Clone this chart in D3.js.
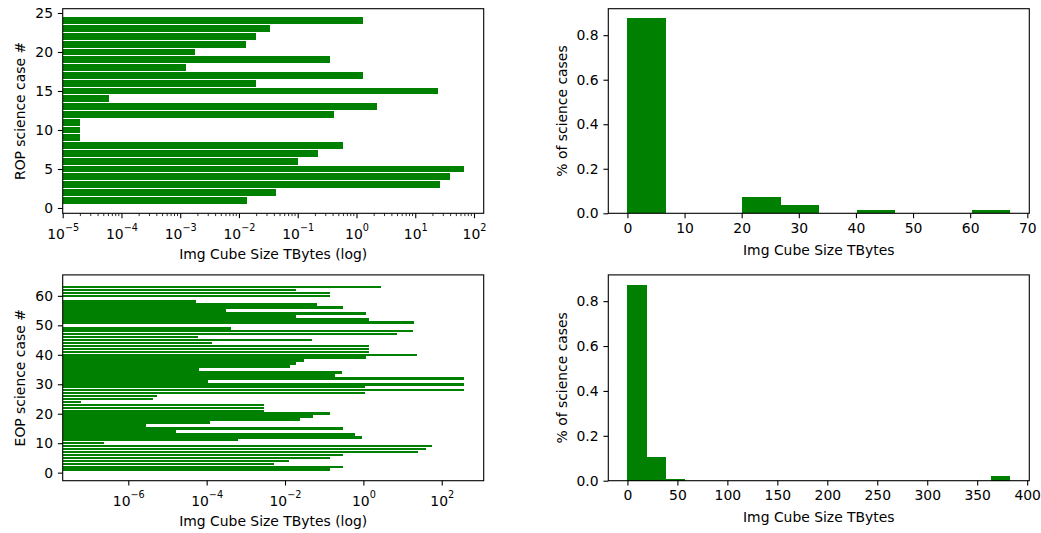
<!DOCTYPE html>
<html>
<head>
<meta charset="utf-8">
<script src="https://cdnjs.cloudflare.com/ajax/libs/d3/7.8.5/d3.min.js"></script>
<style>
    body { margin: 0; background: #fff; }
    svg { display: block; }
</style>
</head>
<body>
<svg id="chart" width="1041" height="533"></svg>
<script>
// image cube size (TBytes) per ROP science case, case 1..24
var ropSize = [0.0136, 0.042, 26.8, 39.6, 66.8, 0.1, 0.217, 0.6, 2e-5, 2e-5,
    2e-5, 0.41, 2.23, 6.2e-5, 24.1, 0.0194, 1.27, 0.00126, 0.348, 0.00177,
    0.0131, 0.0194, 0.034, 1.27];

// image cube size (TBytes) per EOP science case, case 1..63 (0 = no bar)
var eopSize = [0.143, 0.31, 0.0053, 0.0124, 0.143, 0.31, 25, 38.6, 58, 2.4e-7,
    6.4e-4, 0.92, 0.61, 1.7e-5, 0.31, 2.8e-6, 1.25e-4, 0.024, 0.0525, 0.143,
    0.00295, 0.00295, 0.00295, 6.1e-8, 4.2e-6, 5.5e-6, 1.09, 360, 1.09, 360,
    1.06e-4, 360, 0.187, 0.278, 6.4e-5, 0.0134, 0.0187, 0.031, 1.2, 23,
    1.41, 1.41, 1.41, 1.37e-4, 0.048, 5.9e-5, 7.2, 18, 4.2e-4, 0,
    19.8, 1.41, 0.0187, 1.2, 3.2e-4, 0.31, 0.067, 5.5e-5, 0, 0.143,
    0.143, 0.0187, 2.8];

// histograms: bin edges and fraction of science cases
var ropHistEdges = [0, 6.7, 13.4, 20.1, 26.8, 33.5, 40.2, 46.9, 53.6, 60.3, 67.0];
var ropHistFrac = [0.875, 0, 0, 0.072, 0.039, 0, 0.0135, 0, 0, 0.0135];
var eopHistEdges = [0, 19.15, 38.3, 57.45, 76.6, 95.75, 114.9, 134.05, 153.2, 172.35,
    191.5, 210.65, 229.8, 248.95, 268.1, 287.25, 306.4, 325.55, 344.7, 363.85, 383];
var eopHistFrac = [0.873, 0.104, 0.0075, 0, 0, 0, 0, 0, 0, 0,
    0, 0, 0, 0, 0, 0, 0, 0, 0, 0.021];

// ticks
var ropCaseTicks = [0, 5, 10, 15, 20, 25];
var eopCaseTicks = [0, 10, 20, 30, 40, 50, 60];
var ropLogTicks = [-5, -4, -3, -2, -1, 0, 1, 2];
var eopLogTicks = [-6, -4, -2, 0, 2];
var ropHistTicks = [0, 10, 20, 30, 40, 50, 60, 70];
var eopHistTicks = [0, 50, 100, 150, 200, 250, 300, 350, 400];
var fracTicks = [0, 0.2, 0.4, 0.6, 0.8];

var green = "#008000",
    font = "'DejaVu Sans', sans-serif",
    fs = 13.9,
    tickLen = 4.86,
    barH = 0.85;

var svg = d3.select("svg#chart");

function styleAxis(a) {
    a.attr("font-family", font).attr("font-size", fs);
    a.select(".domain").remove();
    a.selectAll(".tick line").attr("stroke", "#000").attr("stroke-width", 1.1);
    a.selectAll(".tick text").attr("fill", "#000");
}

function frame(g, box) {
    g.append("rect")
        .attr("width", box.w)
        .attr("height", box.h)
        .attr("fill", "none")
        .attr("stroke", "#000")
        .attr("stroke-width", 1.1);
}

function labels(g, box, xText, xBase, yText, yBase) {
    g.append("text")
        .attr("x", box.w / 2)
        .attr("y", xBase)
        .attr("text-anchor", "middle")
        .attr("font-family", font)
        .attr("font-size", fs)
        .text(xText);
    g.append("text")
        .attr("transform", "translate(" + yBase + "," + box.h / 2 + ") rotate(-90)")
        .attr("text-anchor", "middle")
        .attr("font-family", font)
        .attr("font-size", fs)
        .text(yText);
}

function drawCases(box, sizes, xDomain, yDomain, caseTicks, logTicks, minor, yText) {
    var g = svg.append("g").attr("transform", "translate(" + box.x + "," + box.y + ")");
    var x = d3.scaleLog().domain(xDomain).range([0, box.w]);
    var y = d3.scaleLinear().domain(yDomain).range([box.h, 0]);

    var cases = sizes
        .map((v, i) => ({ id: i + 1, size: v }))
        .filter(d => d.size > 0);

    // snap bar edges to whole pixels, like the raster original
    var snap = v => Math.round(box.y + v) - box.y;

    g.append("g")
        .selectAll("rect")
        .data(cases)
        .enter()
        .append("rect")
        .attr("x", 0)
        .attr("y", d => snap(y(d.id + barH / 2)))
        .attr("width", d => x(d.size))
        .attr("height", d => snap(y(d.id - barH / 2)) - snap(y(d.id + barH / 2)))
        .attr("fill", green)
        .attr("shape-rendering", "crispEdges");

    if (minor) {
        var mt = [];
        logTicks.forEach(function(e) {
            for (var m = 2; m < 10; m++) {
                var v = m * Math.pow(10, e);
                if (v > xDomain[0] && v < xDomain[1]) mt.push(v);
            }
        });
        g.append("g")
            .selectAll("line")
            .data(mt)
            .enter()
            .append("line")
            .attr("x1", d => x(d))
            .attr("x2", d => x(d))
            .attr("y1", box.h)
            .attr("y2", box.h + 2.78)
            .attr("stroke", "#000")
            .attr("stroke-width", 0.83);
    }

    var xa = g.append("g")
        .attr("transform", "translate(0," + box.h + ")")
        .call(d3.axisBottom(x)
            .tickValues(logTicks.map(e => Math.pow(10, e)))
            .tickFormat("")
            .tickSize(tickLen)
            .tickSizeOuter(0));
    styleAxis(xa);
    xa.selectAll(".tick text").each(function(d) {
        var e = Math.round(Math.log10(d));
        var t = d3.select(this).attr("y", 25.5).attr("dy", null);
        t.append("tspan").text("10");
        t.append("tspan")
            .attr("dy", -8)
            .attr("font-size", 9.7)
            .text((e < 0 ? "\u2212" : "") + Math.abs(e));
    });

    var ya = g.append("g")
        .call(d3.axisLeft(y)
            .tickValues(caseTicks)
            .tickSize(tickLen)
            .tickPadding(4.86)
            .tickSizeOuter(0));
    styleAxis(ya);

    frame(g, box);
    labels(g, box, "Img Cube Size TBytes (log)", box.h + 45.8, yText, -37.7);
}

function drawHist(box, edges, frac, xDomain, xTicks, yDomain) {
    var g = svg.append("g").attr("transform", "translate(" + box.x + "," + box.y + ")");
    var x = d3.scaleLinear().domain(xDomain).range([0, box.w]);
    var y = d3.scaleLinear().domain(yDomain).range([box.h, 0]);

    var bins = frac.map((f, i) => ({ x0: edges[i], x1: edges[i + 1], f: f }))
        .filter(d => d.f > 0);

    g.append("g")
        .selectAll("rect")
        .data(bins)
        .enter()
        .append("rect")
        .attr("x", d => x(d.x0))
        .attr("y", d => y(d.f))
        .attr("width", d => x(d.x1) - x(d.x0))
        .attr("height", d => y(0) - y(d.f))
        .attr("fill", green)
        .attr("shape-rendering", "crispEdges");

    var xa = g.append("g")
        .attr("transform", "translate(0," + box.h + ")")
        .call(d3.axisBottom(x)
            .tickValues(xTicks)
            .tickFormat(d3.format("d"))
            .tickSize(tickLen)
            .tickPadding(4.86)
            .tickSizeOuter(0));
    styleAxis(xa);

    var ya = g.append("g")
        .call(d3.axisLeft(y)
            .tickValues(fracTicks)
            .tickFormat(d3.format(".1f"))
            .tickSize(tickLen)
            .tickPadding(4.86)
            .tickSizeOuter(0));
    styleAxis(ya);

    frame(g, box);
    labels(g, box, "Img Cube Size TBytes", box.h + 41.7, "% of science cases", -41.8);
}

drawCases({ x: 62.7, y: 8.7, w: 421, h: 204.6 }, ropSize,
    [1e-5, Math.pow(10, 2.165)], [-0.68, 25.55],
    ropCaseTicks, ropLogTicks, true, "ROP science case #");

drawCases({ x: 62.7, y: 274.9, w: 421, h: 205.8 }, eopSize,
    [Math.pow(10, -7.674), Math.pow(10, 3.071)], [-2.73, 67.11],
    eopCaseTicks, eopLogTicks, false, "EOP science case #");

drawHist({ x: 608.3, y: 8.7, w: 421, h: 204.6 }, ropHistEdges, ropHistFrac,
    [-3.35, 70.35], ropHistTicks, [0, 0.919]);

drawHist({ x: 608.3, y: 274.9, w: 421, h: 205.8 }, eopHistEdges, eopHistFrac,
    [-19.15, 402.15], eopHistTicks, [0, 0.917]);
</script>
</body>
</html>
